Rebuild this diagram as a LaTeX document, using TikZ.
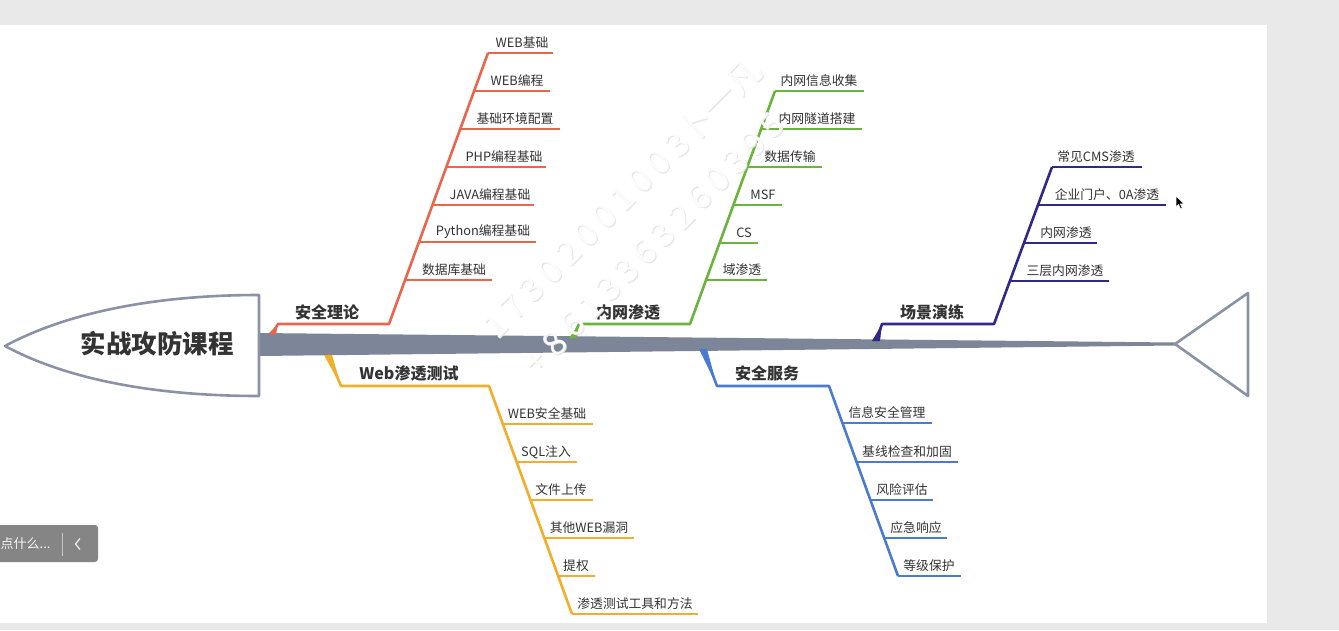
\documentclass[tikz,border=0pt]{standalone}
\usepackage{fontspec}
\setmainfont{Noto Sans CJK SC}
\definecolor{bg}{HTML}{E9E9EA}
\definecolor{spinegray}{HTML}{7D8698}
\definecolor{outlinegray}{HTML}{8A93A5}
\definecolor{cRed}{HTML}{E9664D}
\definecolor{cGreen}{HTML}{6AB43E}
\definecolor{cIndigo}{HTML}{2F2A87}
\definecolor{cOrange}{HTML}{F0AE2B}
\definecolor{cBlue}{HTML}{4A7BD0}
\definecolor{ink}{HTML}{333333}
\definecolor{panelbox}{HTML}{858585}

\tikzset{
  branch/.style={line width=2.6pt, line join=round},
  leaf/.style={font=\fontsize{12.8}{14}\selectfont, text=ink, inner sep=0pt},
  topic/.style={font=\fontsize{16}{18}\selectfont\bfseries, text=ink, inner sep=0pt},
  wmark/.style={font=\fontsize{34}{38}\selectfont, inner sep=0pt, rotate=45},
}

% one rib: colour, name, x on the bone, y, x of the free end, label centre x, label
\newcommand\rib[7]{%
  \coordinate (#2-a) at (#3,#4);
  \coordinate (#2-b) at (#5,#4);
  \draw[branch,#1] (#2-a) -- (#2-b);
  \node[leaf] (#2) at (#6,#4-10) {#7};
}
% wider tracking for the watermark digits
\newcommand\wmdig[1]{{\addfontfeature{LetterSpace=20}#1}}

\begin{document}
\begin{tikzpicture}[x=1pt,y=-1pt]
\useasboundingbox (0,0) rectangle (1339,630);
\fill[bg] (0,0) rectangle (1339,630);
\fill[white] (0,25) rectangle (1267,623);

% spine
\fill[spinegray] (259,333) -- (1175,342.5) -- (1175,345.5) -- (259,356) -- cycle;

% head
\coordinate (tip) at (5,346);
\coordinate (headtop) at (259,295);
\coordinate (headbot) at (259,396);
\draw[outlinegray, line width=2.6pt, fill=white, line join=round]
  (tip) .. controls (70,311) and (160,295) .. (headtop) -- (headbot)
  .. controls (160,396) and (70,381) .. (tip) -- cycle;
\node[font=\fontsize{25.5}{28}\selectfont\bfseries, text=ink, inner sep=0pt] (title) at (157,344) {实战攻防课程};

% tail
\coordinate (tailL) at (1175,344);
\coordinate (tailT) at (1248,293);
\coordinate (tailB) at (1248,396);
\draw[outlinegray, line width=2.6pt, fill=white, line join=round] (tailL) -- (tailT) -- (tailB) -- cycle;

% ---------- 安全理论 ----------
\coordinate (rj) at (272,334);
\coordinate (rk) at (278,324);
\coordinate (rb) at (389,324);
\coordinate (rt) at (488,53);
\fill[cRed] (268,334) -- (276,334) -- (rk) -- cycle;
\draw[branch,cRed] (rj) -- (rk) -- (rb) -- (rt);
\node[topic] (safetheory) at (327,312) {安全理论};
\rib{cRed}{r1}{488}{53}{553}{522}{WEB基础}
\rib{cRed}{r2}{474}{91}{550}{517}{WEB编程}
\rib{cRed}{r3}{460}{129}{560}{515}{基础环境配置}
\rib{cRed}{r4}{446}{167}{546}{504}{PHP编程基础}
\rib{cRed}{r5}{433}{205}{534}{490}{JAVA编程基础}
\rib{cRed}{r6}{419}{242}{536}{483}{Python编程基础}
\rib{cRed}{r7}{405}{280}{492}{454}{数据库基础}

% ---------- 内网渗透 ----------
\coordinate (gj) at (573,337);
\coordinate (gk) at (579,324);
\coordinate (gb) at (690,324);
\coordinate (gt) at (775,91);
\fill[cGreen] (569,338) -- (577,338) -- (gk) -- cycle;
\draw[branch,cGreen] (gj) -- (gk) -- (gb) -- (gt);
\node[topic] (intranet) at (628,312) {内网渗透};
\rib{cGreen}{g1}{775}{91}{864}{819}{内网信息收集}
\rib{cGreen}{g2}{761}{129}{862}{817}{内网隧道搭建}
\rib{cGreen}{g3}{747}{167}{822}{790}{数据传输}
\rib{cGreen}{g4}{733}{205}{782}{763}{MSF}
\rib{cGreen}{g5}{720}{243}{758}{744}{CS}
\rib{cGreen}{g6}{706}{280}{767}{742}{域渗透}

% ---------- 场景演练 ----------
\coordinate (ij) at (876,341);
\coordinate (ik) at (882,324);
\coordinate (ib) at (994,324);
\coordinate (it) at (1052,167);
\fill[cIndigo] (872,341) -- (880,341) -- (ik) -- cycle;
\draw[branch,cIndigo] (ij) -- (ik) -- (ib) -- (it);
\node[topic] (scenario) at (932,312) {场景演练};
\rib{cIndigo}{i1}{1052}{167}{1142}{1096}{常见CMS渗透}
\rib{cIndigo}{i2}{1038}{205}{1166}{1107}{企业门户、0A渗透}
\rib{cIndigo}{i3}{1024}{243}{1097}{1066}{内网渗透}
\rib{cIndigo}{i4}{1010}{281}{1109}{1065}{三层内网渗透}

% ---------- Web渗透测试 ----------
\coordinate (oj) at (328,355);
\coordinate (ok) at (341,386);
\coordinate (ob) at (489,386);
\coordinate (ot) at (572,614);
\fill[cOrange] (324,355) -- (332,355) -- (ok) -- cycle;
\draw[branch,cOrange] (oj) -- (ok) -- (ob) -- (ot);
\node[topic] (webpentest) at (409,373) {Web渗透测试};
\rib{cOrange}{o1}{503}{424}{593}{547}{WEB安全基础}
\rib{cOrange}{o2}{517}{462}{577}{546}{SQL注入}
\rib{cOrange}{o3}{530}{500}{593}{561}{文件上传}
\rib{cOrange}{o4}{544}{538}{634}{589}{其他WEB漏洞}
\rib{cOrange}{o5}{558}{576}{595}{576}{提权}
\rib{cOrange}{o6}{572}{614}{698}{635}{渗透测试工具和方法}

% ---------- 安全服务 ----------
\coordinate (bj) at (703,349);
\coordinate (bk) at (717,386);
\coordinate (bb) at (829,386);
\coordinate (bt) at (898,576);
\fill[cBlue] (699,349) -- (707,349) -- (bk) -- cycle;
\draw[branch,cBlue] (bj) -- (bk) -- (bb) -- (bt);
\node[topic] (secservice) at (767,373) {安全服务};
\rib{cBlue}{b1}{842}{423}{932}{887}{信息安全管理}
\rib{cBlue}{b2}{857}{462}{958}{907}{基线检查和加固}
\rib{cBlue}{b3}{870}{500}{933}{902}{风险评估}
\rib{cBlue}{b4}{884}{538}{947}{916}{应急响应}
\rib{cBlue}{b5}{898}{576}{961}{929}{等级保护}

% watermark: white lettering with a faint grey edge
\node[wmark, text=black!10] (wm1s) at (623,199) {\wmdig{17302001003}卜一凡};
\node[wmark, text=black!10] (wm2s) at (655,244) {\wmdig{+8613363260395}};
\node[wmark, text=white, opacity=0.9] (wm1) at (622,198) {\wmdig{17302001003}卜一凡};
\node[wmark, text=white, opacity=0.9] (wm2) at (654,243) {\wmdig{+8613363260395}};

% chat bar in the lower left corner
\fill[panelbox, rounded corners=3pt] (-6,525) rectangle (98,562);
\node[font=\fontsize{13}{15}\selectfont, text=white!92!gray, anchor=west, inner sep=0pt] (chat) at (0.5,544) {点什么...};
\coordinate (sepT) at (62,533);
\coordinate (sepB) at (62,556);
\draw[white!55!panelbox, line width=1pt] (sepT) -- (sepB);
\coordinate (chevA) at (80,538.5);
\coordinate (chevB) at (75.5,544);
\coordinate (chevC) at (80,549.5);
\draw[white!85!panelbox, line width=1.2pt] (chevA) -- (chevB) -- (chevC);

% mouse pointer
\coordinate (ptr) at (1176,196);
\filldraw[black, draw=white, line width=0.5pt, line join=round]
  (ptr) -- ++(0,11) -- ++(2.6,-2.6) -- ++(2,4.4) -- ++(1.6,-0.8) -- ++(-2,-4.2) -- ++(3.6,0) -- cycle;
\end{tikzpicture}
\end{document}
